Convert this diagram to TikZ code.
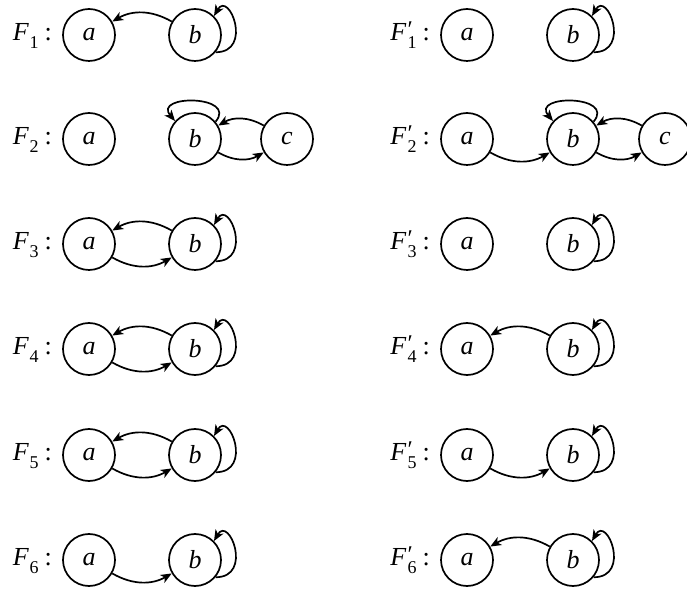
\documentclass[tikz,border=0pt]{standalone}
\usepackage{fontspec}
\setmainfont{Liberation Serif}
\usetikzlibrary{arrows.meta}
\newcommand\Fsub[1]{\raisebox{-0.28em}{\fontsize{18}{18}\selectfont #1}}
\newcommand\Fl[1]{\textit{F}\kern0.5pt\Fsub{#1}\kern6pt:}
\newcommand\Fp[1]{\textit{F}\kern1pt\rlap{\raisebox{0.12em}{\fontsize{24}{24}\selectfont ′}}\Fsub{#1}\kern6pt:}
\begin{document}
\begin{tikzpicture}[x=1pt,y=1pt,
  st/.style={circle,draw,line width=1.7pt,minimum size=52pt,inner sep=0pt,font=\fontsize{26}{30}\selectfont\itshape},
  lab/.style={anchor=base east,inner sep=0pt,font=\fontsize{26}{30}\selectfont},
  arr/.style={line width=1.7pt,-{Stealth[length=11pt,width=9pt,inset=3pt]}}]
\useasboundingbox (0,0) rectangle (687,594);
% ---------- row 1
\node[st] (a1) at (89,559) {a};
\node[st] (b1) at (195,559) {b};
\node[lab] (l1) at ([xshift=-37pt]a1.base) {\Fl{1}};
\draw[arr] (b1) to[bend right=30] (a1);
\draw[arr] (b1.-40) .. controls +(0:38) and +(60:30) .. (b1.45);
\node[st] (a1p) at (467,559) {a};
\node[st] (b1p) at (573,559) {b};
\node[lab] (l1p) at ([xshift=-37pt]a1p.base) {\Fp{1}};
\draw[arr] (b1p.-40) .. controls +(0:38) and +(60:30) .. (b1p.45);
% ---------- row 2
\node[st] (a2) at (89,455) {a};
\node[st] (b2) at (195,455) {b};
\node[st] (c2) at (287,455) {c};
\node[lab] (l2) at ([xshift=-37pt]a2.base) {\Fl{2}};
\draw[arr] (b2.40) .. controls +(50:35) and +(130:35) .. (b2.138);
\draw[arr] (c2) to[bend right=30] (b2);
\draw[arr] (b2) to[bend right=30] (c2);
\node[st] (a2p) at (467,455) {a};
\node[st] (b2p) at (573,455) {b};
\node[st] (c2p) at (665,455) {c};
\node[lab] (l2p) at ([xshift=-37pt]a2p.base) {\Fp{2}};
\draw[arr] (a2p) to[bend right=30] (b2p);
\draw[arr] (b2p.40) .. controls +(50:35) and +(130:35) .. (b2p.138);
\draw[arr] (c2p) to[bend right=30] (b2p);
\draw[arr] (b2p) to[bend right=30] (c2p);
% ---------- row 3
\node[st] (a3) at (89,350) {a};
\node[st] (b3) at (195,350) {b};
\node[lab] (l3) at ([xshift=-37pt]a3.base) {\Fl{3}};
\draw[arr] (b3) to[bend right=30] (a3);
\draw[arr] (a3) to[bend right=30] (b3);
\draw[arr] (b3.-40) .. controls +(0:38) and +(60:30) .. (b3.45);
\node[st] (a3p) at (467,350) {a};
\node[st] (b3p) at (573,350) {b};
\node[lab] (l3p) at ([xshift=-37pt]a3p.base) {\Fp{3}};
\draw[arr] (b3p.-40) .. controls +(0:38) and +(60:30) .. (b3p.45);
% ---------- row 4
\node[st] (a4) at (89,245) {a};
\node[st] (b4) at (195,245) {b};
\node[lab] (l4) at ([xshift=-37pt]a4.base) {\Fl{4}};
\draw[arr] (b4) to[bend right=30] (a4);
\draw[arr] (a4) to[bend right=30] (b4);
\draw[arr] (b4.-40) .. controls +(0:38) and +(60:30) .. (b4.45);
\node[st] (a4p) at (467,245) {a};
\node[st] (b4p) at (573,245) {b};
\node[lab] (l4p) at ([xshift=-37pt]a4p.base) {\Fp{4}};
\draw[arr] (b4p) to[bend right=30] (a4p);
\draw[arr] (b4p.-40) .. controls +(0:38) and +(60:30) .. (b4p.45);
% ---------- row 5
\node[st] (a5) at (89,139) {a};
\node[st] (b5) at (195,139) {b};
\node[lab] (l5) at ([xshift=-37pt]a5.base) {\Fl{5}};
\draw[arr] (b5) to[bend right=30] (a5);
\draw[arr] (a5) to[bend right=30] (b5);
\draw[arr] (b5.-40) .. controls +(0:38) and +(60:30) .. (b5.45);
\node[st] (a5p) at (467,139) {a};
\node[st] (b5p) at (573,139) {b};
\node[lab] (l5p) at ([xshift=-37pt]a5p.base) {\Fp{5}};
\draw[arr] (a5p) to[bend right=30] (b5p);
\draw[arr] (b5p.-40) .. controls +(0:38) and +(60:30) .. (b5p.45);
% ---------- row 6
\node[st] (a6) at (89,34) {a};
\node[st] (b6) at (195,34) {b};
\node[lab] (l6) at ([xshift=-37pt]a6.base) {\Fl{6}};
\draw[arr] (a6) to[bend right=30] (b6);
\draw[arr] (b6.-40) .. controls +(0:38) and +(60:30) .. (b6.45);
\node[st] (a6p) at (467,34) {a};
\node[st] (b6p) at (573,34) {b};
\node[lab] (l6p) at ([xshift=-37pt]a6p.base) {\Fp{6}};
\draw[arr] (b6p) to[bend right=30] (a6p);
\draw[arr] (b6p.-40) .. controls +(0:38) and +(60:30) .. (b6p.45);
\end{tikzpicture}
\end{document}
